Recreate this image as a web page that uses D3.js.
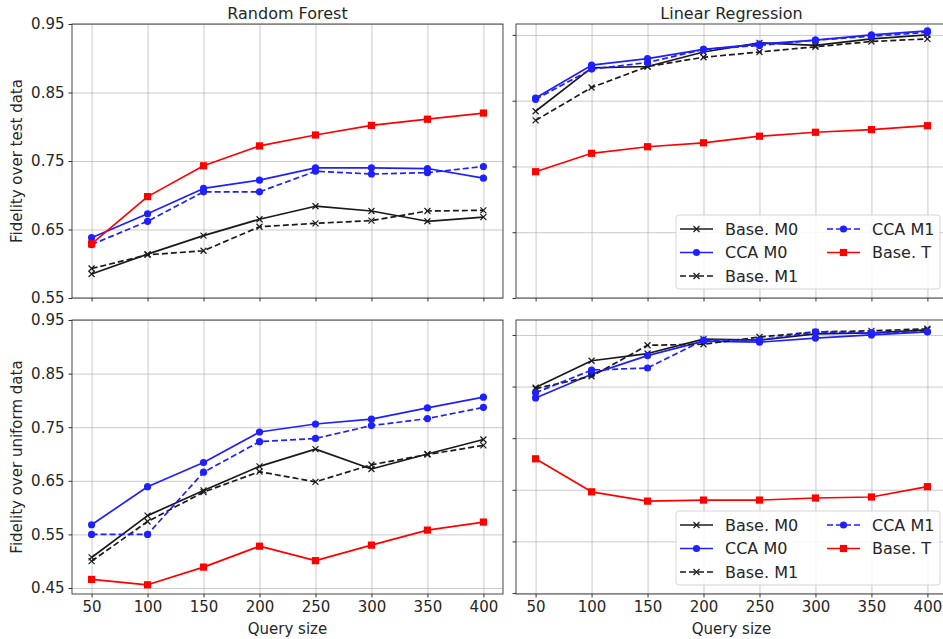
<!DOCTYPE html>
<html><head><meta charset="utf-8">
<script src="https://cdn.jsdelivr.net/npm/d3@7"></script>
<style>
body{margin:0;background:#fff;}
svg{display:block;font-family:"DejaVu Sans",sans-serif;}
</style></head>
<body>
<script>
// ---------- data ----------
const querySizes = [50, 100, 150, 200, 250, 300, 350, 400];
const seriesNames = ["Base. M0", "CCA M0", "Base. M1", "CCA M1", "Base. T"];
const panelTitles = ["Random Forest", "Linear Regression"];
const rowLabels = ["Fidelity over test data", "Fidelity over uniform data"];
const xLabel = "Query size";

// Random Forest, test data
const rfTestBaseM0 = [0.585, 0.614, 0.641, 0.665, 0.684, 0.677, 0.662, 0.668];
const rfTestCcaM0  = [0.638, 0.673, 0.710, 0.722, 0.740, 0.740, 0.739, 0.725];
const rfTestBaseM1 = [0.593, 0.613, 0.619, 0.654, 0.659, 0.663, 0.677, 0.678];
const rfTestCcaM1  = [0.628, 0.662, 0.705, 0.705, 0.735, 0.731, 0.733, 0.742];
const rfTestBaseT  = [0.629, 0.698, 0.743, 0.772, 0.788, 0.802, 0.811, 0.820];

// Linear Regression, test data
const lrTestBaseM0 = [0.892, 0.925, 0.926, 0.937, 0.944, 0.942, 0.947, 0.950];
const lrTestCcaM0  = [0.902, 0.927, 0.932, 0.939, 0.943, 0.946, 0.950, 0.953];
const lrTestBaseM1 = [0.885, 0.910, 0.926, 0.933, 0.937, 0.941, 0.945, 0.947];
const lrTestCcaM1  = [0.901, 0.924, 0.929, 0.939, 0.942, 0.946, 0.949, 0.952];
const lrTestBaseT  = [0.846, 0.860, 0.865, 0.868, 0.873, 0.876, 0.878, 0.881];

// Random Forest, uniform data
const rfUniBaseM0 = [0.507, 0.585, 0.632, 0.677, 0.709, 0.672, 0.700, 0.727];
const rfUniCcaM0  = [0.568, 0.639, 0.684, 0.741, 0.756, 0.765, 0.786, 0.806];
const rfUniBaseM1 = [0.500, 0.574, 0.629, 0.667, 0.648, 0.680, 0.699, 0.716];
const rfUniCcaM1  = [0.550, 0.550, 0.666, 0.723, 0.729, 0.753, 0.766, 0.787];
const rfUniBaseT  = [0.466, 0.456, 0.489, 0.528, 0.501, 0.530, 0.558, 0.573];

// Linear Regression, uniform data
const lrUniBaseM0 = [0.899, 0.925, 0.932, 0.946, 0.945, 0.951, 0.952, 0.955];
const lrUniCcaM0  = [0.889, 0.912, 0.930, 0.944, 0.943, 0.947, 0.950, 0.953];
const lrUniBaseM1 = [0.898, 0.910, 0.940, 0.941, 0.948, 0.953, 0.954, 0.956];
const lrUniCcaM1  = [0.894, 0.916, 0.918, 0.945, 0.945, 0.953, 0.952, 0.953];
const lrUniBaseT  = [0.830, 0.798, 0.789, 0.790, 0.790, 0.792, 0.793, 0.803];

// y tick values
const rfTestTicks = [0.55, 0.65, 0.75, 0.85, 0.95];
const rfUniTicks  = [0.45, 0.55, 0.65, 0.75, 0.85, 0.95];
const lrTestTicks = [0.75, 0.80, 0.85, 0.90, 0.95];
const lrUniTicks  = [0.70, 0.75, 0.80, 0.85, 0.90, 0.95];

// ---------- styles ----------
const styles = [
  {color: "#1a1a1a", dash: null, marker: "x"},
  {color: "#1f1fff", dash: null, marker: "o"},
  {color: "#1a1a1a", dash: "6,3", marker: "x"},
  {color: "#1f1fff", dash: "6,3", marker: "o"},
  {color: "#ff0000", dash: null, marker: "s"}
];

const W = 943, H = 639;
const svg = d3.select("body").append("svg").attr("width", W).attr("height", H);

const panels = [
  {x0: 72, x1: 503, y0: 24, y1: 298, dom: [0.55, 0.95], ticks: rfTestTicks, labels: true, title: panelTitles[0], ylab: rowLabels[0], xlabs: false, legend: false,
   series: [rfTestBaseM0, rfTestCcaM0, rfTestBaseM1, rfTestCcaM1, rfTestBaseT]},
  {x0: 516, x1: 947, y0: 24, y1: 298, dom: [0.75, 0.9583], ticks: lrTestTicks, labels: false, title: panelTitles[1], ylab: null, xlabs: false, legend: true,
   series: [lrTestBaseM0, lrTestCcaM0, lrTestBaseM1, lrTestCcaM1, lrTestBaseT]},
  {x0: 72, x1: 503, y0: 320, y1: 594, dom: [0.4388, 0.95], ticks: rfUniTicks, labels: true, title: null, ylab: rowLabels[1], xlabs: true, legend: false,
   series: [rfUniBaseM0, rfUniCcaM0, rfUniBaseM1, rfUniCcaM1, rfUniBaseT]},
  {x0: 516, x1: 947, y0: 320, y1: 594, dom: [0.699, 0.9645], ticks: lrUniTicks, labels: false, title: null, ylab: null, xlabs: true, legend: true,
   series: [lrUniBaseM0, lrUniCcaM0, lrUniBaseM1, lrUniCcaM1, lrUniBaseT]}
];

const txtColor = "#262626";

function drawMarker(g, type, cx, cy, color) {
  if (type === "o") {
    g.append("circle").attr("cx", cx).attr("cy", cy).attr("r", 3.6).attr("fill", color);
  } else if (type === "s") {
    g.append("rect").attr("x", cx - 3.6).attr("y", cy - 3.6).attr("width", 7.2).attr("height", 7.2).attr("fill", color);
  } else {
    const s = 3;
    g.append("path").attr("d", `M${cx-s},${cy-s}L${cx+s},${cy+s}M${cx-s},${cy+s}L${cx+s},${cy-s}`)
      .attr("stroke", color).attr("stroke-width", 1.2).attr("fill", "none");
  }
}

panels.forEach(p => {
  const x = d3.scaleLinear().domain([32.5, 417.5]).range([p.x0, p.x1]);
  const y = d3.scaleLinear().domain(p.dom).range([p.y1, p.y0]);
  const g = svg.append("g");

  // grid
  g.append("g").attr("transform", `translate(0,${p.y1})`)
    .call(d3.axisBottom(x).tickValues(querySizes).tickSize(-(p.y1 - p.y0)).tickFormat(""))
    .call(a => a.select(".domain").remove())
    .call(a => a.selectAll("line").attr("stroke", "#b0b0b0").attr("stroke-width", 0.8).attr("opacity", 0.85));
  g.append("g").attr("transform", `translate(${p.x0},0)`)
    .call(d3.axisLeft(y).tickValues(p.ticks).tickSize(-(p.x1 - p.x0)).tickFormat(""))
    .call(a => a.select(".domain").remove())
    .call(a => a.selectAll("line").attr("stroke", "#b0b0b0").attr("stroke-width", 0.8).attr("opacity", 0.85));

  // series
  const sg = g.append("g");
  const line = d3.line().x((d, i) => x(querySizes[i])).y(d => y(d));
  p.series.forEach((vals, si) => {
    const st = styles[si];
    sg.append("path").attr("d", line(vals)).attr("fill", "none").attr("stroke", st.color)
      .attr("stroke-width", 1.7).attr("stroke-dasharray", st.dash).attr("stroke-linejoin", "round");
    vals.forEach((v, i) => drawMarker(sg, st.marker, x(querySizes[i]), y(v), st.color));
  });

  // spines
  g.append("rect").attr("x", p.x0).attr("y", p.y0).attr("width", p.x1 - p.x0).attr("height", p.y1 - p.y0)
    .attr("fill", "none").attr("stroke", "#333").attr("stroke-width", 0.9);

  // axes ticks
  const ax = g.append("g").attr("transform", `translate(0,${p.y1})`)
    .call(d3.axisBottom(x).tickValues(querySizes).tickSize(3.5).tickPadding(4).tickFormat(p.xlabs ? d3.format("d") : ""));
  ax.select(".domain").remove();
  ax.selectAll("line").attr("stroke", "#333");
  ax.selectAll("text").attr("font-size", 15).attr("fill", txtColor).attr("font-family", "DejaVu Sans");

  const ay = g.append("g").attr("transform", `translate(${p.x0},0)`)
    .call(d3.axisLeft(y).tickValues(p.ticks).tickSize(3.5).tickPadding(4).tickFormat(p.labels ? d3.format(".2f") : ""));
  ay.select(".domain").remove();
  ay.selectAll("line").attr("stroke", "#333");
  ay.selectAll("text").attr("font-size", 15).attr("fill", txtColor).attr("font-family", "DejaVu Sans");

  if (p.title) {
    g.append("text").attr("x", p.x0 + 431 / 2).attr("y", 19).attr("text-anchor", "middle")
      .attr("font-size", 16).attr("fill", txtColor).text(p.title);
  }
  if (p.ylab) {
    g.append("text").attr("transform", `translate(22,${(p.y0 + p.y1) / 2}) rotate(-90)`)
      .attr("text-anchor", "middle").attr("font-size", 15).attr("fill", txtColor).text(p.ylab);
  }
  if (p.xlabs) {
    g.append("text").attr("x", p.x0 + 431 / 2).attr("y", 634).attr("text-anchor", "middle")
      .attr("font-size", 15).attr("fill", txtColor).text(xLabel);
  }

  if (p.legend) {
    const lx = 676, ly = p.y1 - 83, lw = 264, lh = 74;
    const lg = g.append("g");
    lg.append("rect").attr("x", lx).attr("y", ly).attr("width", lw).attr("height", lh).attr("rx", 3)
      .attr("fill", "white").attr("fill-opacity", 0.85).attr("stroke", "#d0d0d0").attr("stroke-width", 0.9);
    const pos = [[0, 0], [0, 1], [0, 2], [1, 0], [1, 1]];
    seriesNames.forEach((name, si) => {
      const st = styles[si];
      const [c, r] = pos[si];
      const hx = lx + 4 + c * 147, hy = ly + 14 + r * 23.5;
      lg.append("line").attr("x1", hx).attr("x2", hx + 33).attr("y1", hy).attr("y2", hy)
        .attr("stroke", st.color).attr("stroke-width", 1.6).attr("stroke-dasharray", st.dash);
      drawMarker(lg, st.marker, hx + 16.5, hy, st.color);
      lg.append("text").attr("x", hx + 45).attr("y", hy + 5.5).attr("font-size", 16).attr("fill", txtColor).text(name);
    });
  }
});
</script>
</body></html>
